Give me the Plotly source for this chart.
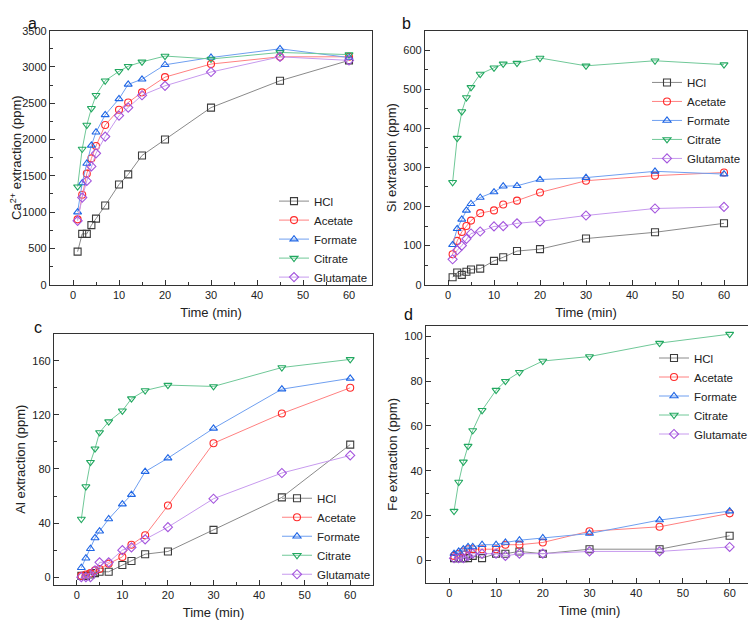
import plotly.graph_objects as go

time = [1, 2, 3, 4, 5, 7, 10, 12, 15, 20, 30, 45, 60]
series_names = ["HCl", "Acetate", "Formate", "Citrate", "Glutamate"]

# Panel a: Ca2+ extraction (ppm)
ca_hcl = [455, 700, 700, 820, 910, 1090, 1380, 1520, 1780, 2000, 2440, 2810, 3090]
ca_acetate = [900, 1240, 1530, 1740, 1910, 2200, 2410, 2510, 2650, 2860, 3040, 3140, 3140]
ca_formate = [1000, 1400, 1670, 1920, 2100, 2340, 2560, 2760, 2830, 3030, 3130, 3250, 3130]
ca_citrate = [1350, 1870, 2200, 2430, 2610, 2810, 2940, 3010, 3070, 3150, 3110, 3200, 3170]
ca_glutamate = [880, 1200, 1430, 1630, 1810, 2040, 2330, 2440, 2610, 2740, 2930, 3140, 3090]

# Panel b: Si extraction (ppm)
si_hcl = [19, 31, 25, 33, 39, 41, 61, 70, 86, 91, 118, 134, 157]
si_acetate = [78, 112, 135, 150, 164, 183, 190, 205, 215, 236, 266, 279, 287]
si_formate = [102, 143, 167, 190, 207, 223, 237, 252, 253, 269, 274, 290, 283]
si_citrate = [262, 375, 443, 479, 505, 539, 555, 565, 567, 580, 560, 573, 563]
si_glutamate = [65, 88, 100, 117, 131, 136, 149, 150, 157, 162, 177, 195, 199]

# Panel c: Al extraction (ppm)
al_hcl = [1, 1, 2, 3, 4, 4, 9, 12, 17, 19, 35, 59, 98]
al_acetate = [1, 2, 3, 5, 6, 10, 15, 24, 31, 53, 99, 121, 140]
al_formate = [7, 14, 21, 29, 34, 43, 54, 61, 78, 88, 110, 139, 147]
al_citrate = [43, 67, 85, 95, 107, 115, 123, 132, 138, 142, 141, 155, 161]
al_glutamate = [0, 0, 0, 5, 11, 11, 20, 22, 28, 37, 58, 77, 90]

# Panel d: Fe extraction (ppm)
fe_hcl = [1, 1, 1, 1, 2, 1, 3, 3, 4, 3, 5, 5, 11]
fe_acetate = [2, 3, 4, 5, 5, 5, 5, 7, 7, 8, 13, 15, 21]
fe_formate = [3, 4, 5, 6, 6, 7, 7, 8, 9, 10, 12, 18, 22]
fe_citrate = [22, 35, 44, 51, 58, 67, 76, 80, 84, 89, 91, 97, 101]
fe_glutamate = [1, 1, 1, 2, 3, 3, 3, 2, 3, 3, 4, 4, 6]

panels = [
    [ca_hcl, ca_acetate, ca_formate, ca_citrate, ca_glutamate],
    [si_hcl, si_acetate, si_formate, si_citrate, si_glutamate],
    [al_hcl, al_acetate, al_formate, al_citrate, al_glutamate],
    [fe_hcl, fe_acetate, fe_formate, fe_citrate, fe_glutamate],
]
y_titles = ["Ca<sup>2+</sup> extraction (ppm)", "Si extraction (ppm)",
            "Al extraction (ppm)", "Fe extraction (ppm)"]
panel_letters = ["a", "b", "c", "d"]

marker_colors = ["#3c3c3c", "#ff2a2a", "#1f66e5", "#22a860", "#a455dd"]
line_colors = ["#8a8a8a", "#ff8080", "#6f9ff0", "#70c898", "#c79aee"]
symbols = ["square-open", "circle-open", "triangle-up-open", "triangle-down-open", "diamond-open"]

# page has an 8px body margin; work in page pixels and convert
OFF = 8
W, H = 756 - OFF, 629 - OFF
def px_x(a, b):
    return [(a - OFF) / W, (b - OFF) / W]
def px_y(top, bottom):
    return [1 - (bottom - OFF) / H, 1 - (top - OFF) / H]
def fx(x):
    return (x - OFF) / W
def fy(y):
    return 1 - (y - OFF) / H

x_domains = [px_x(50, 372), px_x(425, 747), px_x(54, 373), px_x(426, 753)]
y_domains = [px_y(25, 284), px_y(25, 284), px_y(334, 590), px_y(326, 588)]
y_ranges = [[0, 3500], [0, 650], [-5.6, 180], [-10, 104.7]]
y_dticks = [500, 100, 40, 20]
legend_pos = [(274, 184), (647, 63), (277, 487), (654, 344)]
# (x centre, y, y-anchor) of the panel letters in page pixels
letter_pos = [(32, 8, "top"), (406, 8, "top"), (38, 328, "middle"), (408, 314, "middle")]

fig = go.Figure()
font_family = "Liberation Sans, Arial, sans-serif"

for p in range(4):
    ax = "" if p == 0 else str(p + 1)
    leg = "legend" if p == 0 else "legend" + str(p + 1)
    for i, name in enumerate(series_names):
        fig.add_trace(go.Scatter(
            x=time, y=panels[p][i], name=name, mode="lines+markers",
            xaxis="x" + ax, yaxis="y" + ax, legend=leg,
            line=dict(color=line_colors[i], width=1),
            marker=dict(symbol=symbols[i], size=7, color=marker_colors[i],
                        line=dict(width=1.1, color=marker_colors[i])),
        ))
    axis_common = dict(showline=True, linecolor="#333", linewidth=1.2, mirror=True,
                       ticks="inside", ticklen=5, tickwidth=1, tickcolor="#333",
                       showgrid=False, zeroline=False,
                       tickfont=dict(size=11, color="#222", family=font_family))
    fig.update_layout(**{
        "xaxis" + ax: dict(axis_common, domain=x_domains[p], range=[-5, 65],
                           tick0=0, dtick=10, anchor="y" + ax,
                           minor=dict(ticks="inside", ticklen=3, dtick=5, tickcolor="#333"),
                           title=dict(text="Time (min)", standoff=7,
                                      font=dict(size=13, color="#222", family=font_family))),
        "yaxis" + ax: dict(axis_common, domain=y_domains[p], range=y_ranges[p],
                           tick0=0, dtick=y_dticks[p], anchor="x" + ax,
                           minor=dict(ticks="inside", ticklen=3, dtick=y_dticks[p] / 2,
                                      tickcolor="#333"),
                           title=dict(text=y_titles[p], standoff=3,
                                      font=dict(size=13, color="#222", family=font_family))),
        leg: dict(x=fx(legend_pos[p][0]), y=fy(legend_pos[p][1]),
                  xanchor="left", yanchor="top", bgcolor="rgba(0,0,0,0)",
                  font=dict(size=11.5, color="#222", family=font_family),
                  itemwidth=30, tracegroupgap=0),
    })
    lx, ly, lanchor = letter_pos[p]
    fig.add_annotation(text=panel_letters[p], x=fx(lx), y=fy(ly),
                       xref="paper", yref="paper", xanchor="center", yanchor=lanchor,
                       showarrow=False, borderpad=0,
                       font=dict(size=16, color="#111", family=font_family))

fig.update_layout(width=W, height=H, margin=dict(l=0, r=0, t=0, b=0),
                  paper_bgcolor="white", plot_bgcolor="white", showlegend=True)

fig.write_html("out.html")
